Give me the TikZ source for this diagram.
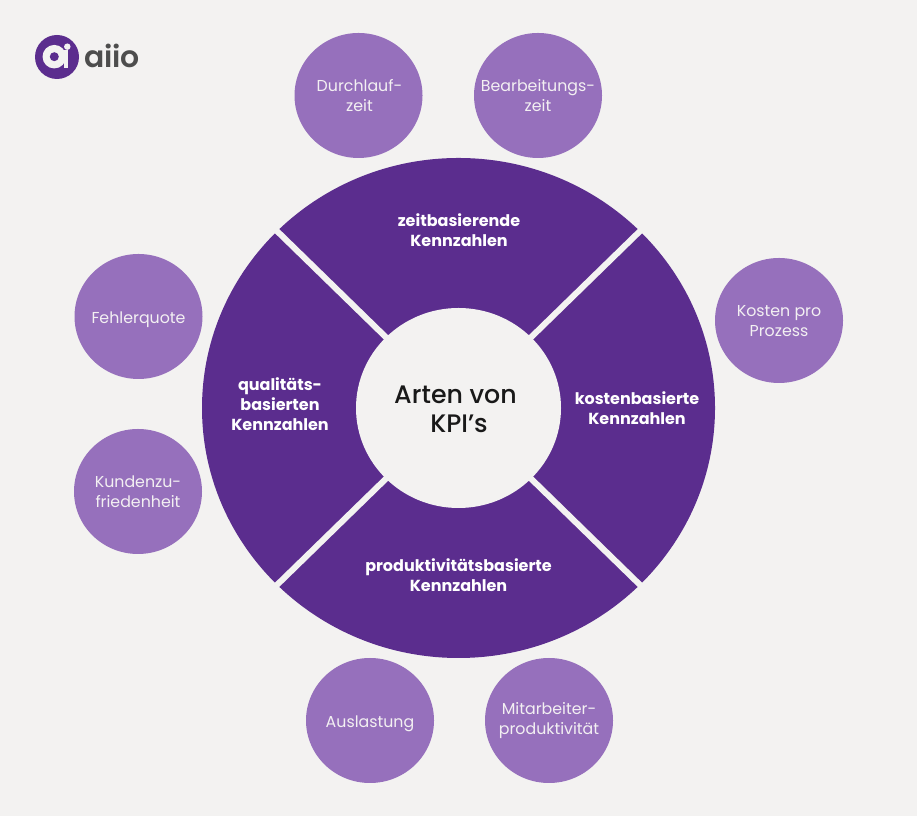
\documentclass[tikz,border=0pt]{standalone}
\usepackage{fontspec}
\setmainfont{Poppins}
\newfontfamily\mediumfont{Poppins Medium}
\newfontfamily\logofont{Poppins SemiBold}
\usetikzlibrary{shapes.geometric, positioning}
\definecolor{kpibg}{HTML}{F3F2F1}
\definecolor{kpidark}{HTML}{5B2D8E}
\definecolor{kpilight}{HTML}{9670BC}
\definecolor{kpitext}{HTML}{F3F0F2}
\definecolor{logotext}{HTML}{4D4D4D}
\tikzset{
  wheel/.style={ellipse, fill=kpidark, inner sep=0pt, minimum width=10.26cm, minimum height=10cm},
  hub/.style={ellipse, fill=kpibg, inner sep=0pt, minimum width=4.1cm, minimum height=4cm},
  hubtext/.style={align=center, text=black!90, yshift=-0.02cm, font=\mediumfont\fontsize{14.4}{16.5}\selectfont},
  metric/.style={ellipse, fill=kpilight, inner sep=0pt, minimum width=2.56cm, minimum height=2.5cm},
  metrictext/.style={align=center, text=kpitext, yshift=-0.01cm, font=\fontsize{9}{11.4}\selectfont},
  sector/.style={align=center, text=white, font=\fontsize{9.1}{11.4}\selectfont\bfseries},
  gap/.style={line width=0.12cm, kpibg, shorten >=-0.1cm, shorten <=-0.1cm}
}

\begin{document}
\begin{tikzpicture}
\fill [kpibg] (0,0) rectangle (18.34,16.32);

\node [wheel] (wheel) at (9.17,8.16) {};
\draw [gap] (wheel.north west) -- (wheel.south east);
\draw [gap] (wheel.north east) -- (wheel.south west);
\node [hub] (hub) at (9.17,8.16) {};
\node [hubtext] (hublabel) at (9.18,8.16) {Arten von\kern0.14cm\\ KPI’s};

\node [sector] (zeit) at (9.18,11.72) {zeitbasierende\\Kennzahlen};
\node [sector] (kosten) at (12.74,8.16) {kostenbasierte\\Kennzahlen};
\node [sector] (produkt) at (9.17,4.82) {produktivitätsbasierte\\Kennzahlen};
\node [sector] (qualitaet) at (5.60,8.24) {qualitäts-\\basierten\\Kennzahlen};

\node [metric] (durchlauf) at (7.17,14.41) {};
\node [metrictext, xshift=0.02cm] at (durchlauf) {Durchlauf-\\zeit};
\node [metric] (bearbeitung) at (10.76,14.41) {};
\node [metrictext] at (bearbeitung) {Bearbeitungs-\\zeit};
\node [metric] (prozess) at (15.58,9.91) {};
\node [metrictext] at (prozess) {Kosten pro\\Prozess};
\node [metric] (fehler) at (2.77,9.99) {};
\node [metrictext, yshift=-0.05cm] at (fehler) {Fehlerquote};
\node [metric] (kunden) at (2.76,6.49) {};
\node [metrictext] at (kunden) {Kundenzu-\\friedenheit};
\node [metric] (auslastung) at (7.40,1.91) {};
\node [metrictext, yshift=-0.05cm] at (auslastung) {Auslastung};
\node [metric] (mitarbeiter) at (10.98,1.91) {};
\node [metrictext] at (mitarbeiter) {Mitarbeiter-\\produktivität};

\fill [kpidark] (1.14,15.18) circle (0.44);
\fill [kpibg] (1.086,15.186) circle (0.235);
\fill [kpidark] (1.086,15.186) circle (0.09);
\fill [kpibg] (1.27,14.96) rectangle (1.36,15.32);
\fill [kpibg] (1.346,15.386) circle (0.065);
\node [text=logotext, font=\logofont\fontsize{17}{20}\selectfont] (logo) at (2.24,15.20) {aiio};
\end{tikzpicture}
\end{document}
